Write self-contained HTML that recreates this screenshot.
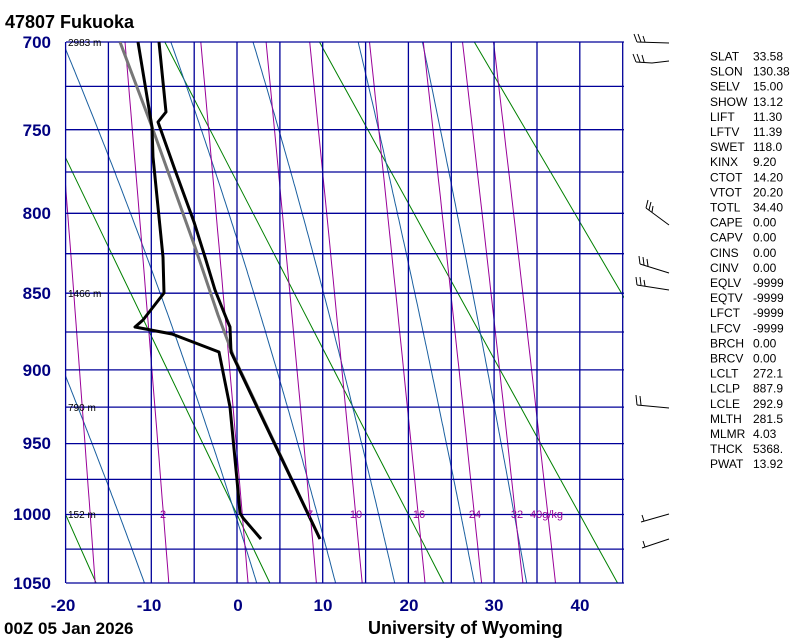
<!DOCTYPE html>
<html><head><meta charset="utf-8">
<style>
html,body{margin:0;padding:0;background:#fff;}
svg{display:block;}
text{font-family:"Liberation Sans",Arial,sans-serif;}
</style></head>
<body>
<svg id="s" width="800" height="640" xmlns="http://www.w3.org/2000/svg">
<defs><clipPath id="c"><rect x="66" y="42" width="558" height="541"/></clipPath></defs>
<g id="bg" clip-path="url(#c)"></g>
<g id="grid"></g>
<g id="snd" clip-path="url(#c)"></g>
<g font-size="17" font-weight="bold" fill="#000080" text-anchor="end">
<text x="51" y="48">700</text><text x="51" y="136">750</text><text x="51" y="219">800</text>
<text x="51" y="299">850</text><text x="51" y="376">900</text><text x="51" y="449">950</text>
<text x="51" y="520">1000</text><text x="51" y="589">1050</text>
</g>
<g font-size="17" font-weight="bold" fill="#000080" text-anchor="middle">
<text x="63" y="611">-20</text><text x="149" y="611">-10</text><text x="238" y="611">0</text>
<text x="323" y="611">10</text><text x="409" y="611">20</text><text x="494" y="611">30</text><text x="580" y="611">40</text>
</g>
<g font-size="10" fill="#000">
<text x="68" y="46">2983 m</text><text x="68" y="297">1466 m</text>
<text x="68" y="411">790 m</text><text x="68" y="518">152 m</text>
</g>
<g font-size="11" fill="#990099" text-anchor="middle">
<text x="163" y="518">2</text><text x="310" y="518">7</text><text x="356" y="518">10</text>
<text x="419" y="518">16</text><text x="475" y="518">24</text><text x="517" y="518">32</text>
<text x="530" y="518" text-anchor="start">40g/kg</text>
</g>
<text x="5" y="28" font-size="18" font-weight="bold" fill="#000">47807  Fukuoka</text>
<text x="4" y="634" font-size="17" font-weight="bold" fill="#000">00Z 05 Jan 2026</text>
<text x="368" y="634" font-size="18" font-weight="bold" fill="#000">University of Wyoming</text>
<g id="stats" font-size="12" fill="#000"></g>
<g stroke="#000" stroke-width="1" fill="none">
<polyline points="637,42 669,43"/><path d="M637,42 l-3,-8 M641,42 l-3,-8 M645,42 l-2,-6"/>
<polyline points="636,62 652,63 669,61"/><path d="M636,62 l-3,-8 M640,62 l-3,-8 M644,62 l-2,-7"/>
<polyline points="646,208 669,225"/><path d="M646,208 l2,-8 M649,210 l2,-8 M652,212 l1,-6"/>
<polyline points="640,264 669,273"/><path d="M640,264 l-1,-8 M644,265 l-1,-8 M648,266 l-1,-7"/>
<polyline points="637,285 669,290"/><path d="M637,285 l-1,-8 M641,285 l-1,-8 M645,286 l-1,-6"/>
<polyline points="637,405 669,408"/><path d="M637,405 l-1,-10 M641,405 l-1,-9"/>
<polyline points="641,522 669,514"/><path d="M644,521 l-2,-6"/>
<polyline points="642,548 669,539"/><path d="M645,547 l-2,-6"/>
</g>
</svg>
<script>
const K=0.286,P0=Math.pow(700,K),P1=Math.pow(1050,K);
function Y(p){return 42+541*(Math.pow(p,K)-P0)/(P1-P0);}
function X(t){return 237+8.57*t;}
const NS="http://www.w3.org/2000/svg";
function pl(g,pts,col,w){const e=document.createElementNS(NS,"polyline");e.setAttribute("points",pts.map(a=>a[0].toFixed(1)+","+a[1].toFixed(1)).join(" "));e.setAttribute("fill","none");e.setAttribute("stroke",col);e.setAttribute("stroke-width",w);e.setAttribute("stroke-linejoin","round");document.getElementById(g).appendChild(e);}
[-20,0,20,40,60,80].forEach(th=>{const pts=[];for(let p=680;p<=1060;p+=20){const T=(th+273.15)*Math.pow(p/1000,K)-273.15;pts.push([X(T),Y(p)]);}pl("bg",pts,"#008000",1);});
function es(t){return 6.112*Math.exp(17.67*t/(t+243.5));}
function ws(t,p){const e=es(t);return 0.622*e/(p-e);}
function dTdp(T,p){const Rd=287.04,cp=1005.7,L=2.501e6,eps=0.622;const rs=ws(T-273.15,p);return (Rd*T+L*rs)/(p*(cp+L*L*rs*eps/(Rd*T*T)));}
[-10.8,2.3,11.5,18.4,27.7,33.8].forEach(t0=>{let T=t0+273.15;const pts=[[X(t0),Y(1050)]];for(let p=1050;p>680;p-=2){T-=2*dTdp(T,p);pts.push([X(T-273.15),Y(p-2)]);}pl("bg",pts,"#1a5fa0",1);});
[1,2,4,7,10,16,24,32,40].forEach(w=>{const pts=[];for(let p=680;p<=1060;p+=10){const e=w*p/(622+w);const l=Math.log(e/6.112);const t=243.5*l/(17.67-l);pts.push([X(t),Y(p)]);}pl("bg",pts,"#990099",1);});
const g=document.getElementById("grid");let h="";
[700,725,750,775,800,825,850,875,900,925,950,975,1000,1025,1050].forEach(p=>{const y=Y(p).toFixed(1);h+=`<line x1="66" x2="624" y1="${y}" y2="${y}" stroke="#000099" stroke-width="1.3"/>`;});
for(let t=-20;t<=45;t+=5){const x=X(t).toFixed(1);h+=`<line x1="${x}" x2="${x}" y1="42" y2="583" stroke="#000099" stroke-width="1.3"/>`;}
g.innerHTML=h;
pl("snd",[[320,539],[233,355],[218,315],[195,247],[152,127],[120,42]],"#777",3);
pl("snd",[[159,42],[166,112],[158,122],[175,170],[194,222],[205,257],[215,290],[227,320],[230,327],[231,352],[257,407],[320,539]],"#000",3);
pl("snd",[[138,42],[152,127],[153,157],[163,257],[164,293],[143,320],[135,327],[172,334],[219,352],[230,407],[237,480],[240,513],[243,518],[261,539]],"#000",3);
const st=[["SLAT","33.58"],["SLON","130.38"],["SELV","15.00"],["SHOW","13.12"],["LIFT","11.30"],["LFTV","11.39"],["SWET","118.0"],["KINX","9.20"],["CTOT","14.20"],["VTOT","20.20"],["TOTL","34.40"],["CAPE","0.00"],["CAPV","0.00"],["CINS","0.00"],["CINV","0.00"],["EQLV","-9999"],["EQTV","-9999"],["LFCT","-9999"],["LFCV","-9999"],["BRCH","0.00"],["BRCV","0.00"],["LCLT","272.1"],["LCLP","887.9"],["LCLE","292.9"],["MLTH","281.5"],["MLMR","4.03"],["THCK","5368."],["PWAT","13.92"]];
let s="";st.forEach((r,i)=>{const y=(60.5+i*15.1).toFixed(1);s+=`<text x="710" y="${y}">${r[0]}</text><text x="753" y="${y}">${r[1]}</text>`;});
document.getElementById("stats").innerHTML=s;
</script>
</body></html>
